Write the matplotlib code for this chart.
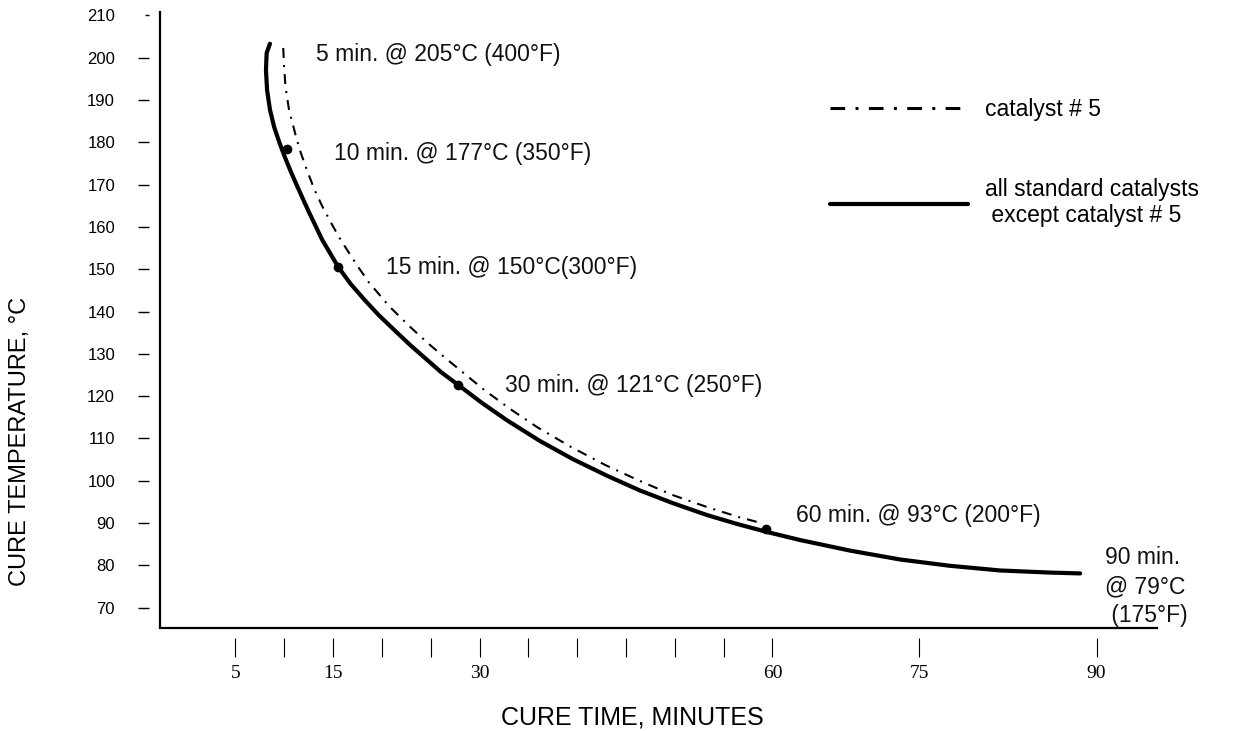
import numpy as np
import matplotlib
matplotlib.use("Agg")
import matplotlib.pyplot as plt

plt.rcParams['font.family'] = ['Liberation Sans', 'DejaVu Sans']

# ---- data (minutes, deg C) ----
solid_time = [8.54, 8.20, 8.13, 8.24, 8.54, 8.97, 9.51, 10.05, 10.72, 11.49,
              12.51, 13.90, 15.54, 16.81, 18.25, 19.66, 21.24, 22.89, 24.62,
              26.05, 27.79, 30.25, 32.81, 36.19, 39.57, 43.05, 46.43, 49.81,
              53.29, 56.36, 59.43, 62.81, 67.93, 73.05, 77.62, 81.85, 86.07,
              88.61]
solid_temp = [203.3, 201.1, 197.1, 192.4, 187.7, 183.6, 179.9, 176.6, 172.8,
              168.8, 163.6, 156.9, 150.5, 146.5, 142.7, 139.2, 135.7, 132.1,
              128.6, 125.7, 122.7, 118.4, 114.3, 109.4, 105.1, 101.2, 97.7,
              94.7, 91.9, 89.8, 87.9, 86.0, 83.5, 81.4, 79.9, 78.8, 78.3,
              78.1]

cat5_time = [9.90, 9.98, 10.13, 10.49, 11.21, 11.67, 12.31, 13.10, 13.87,
             14.79, 15.61, 16.43, 17.50, 18.63, 20.73, 22.88, 24.82, 26.72,
             30.46, 33.12, 35.88, 39.36, 42.90, 46.38, 49.81, 53.29, 56.57,
             58.87]
cat5_temp = [202.3, 198.1, 193.1, 187.7, 181.3, 177.7, 173.5, 168.8, 165.0,
             161.0, 157.6, 154.6, 150.8, 147.0, 141.3, 136.4, 132.3, 128.6,
             121.5, 117.0, 112.7, 108.0, 103.7, 100.0, 96.6, 93.8, 91.4, 90.0]

dot_time = [10.30, 15.54, 27.82, 59.37]
dot_temp = [178.4, 150.5, 122.6, 88.5]
dot_labels = ["10 min. @ 177°C (350°F)", "15 min. @ 150°C(300°F)",
              "30 min. @ 121°C (250°F)", "60 min. @ 93°C (200°F)"]
start_label = "5 min. @ 205°C (400°F)"
end_label = "90 min.\n@ 79°C\n (175°F)"

x_ticks = [5, 10, 15, 20, 25, 30, 35, 40, 45, 50, 55, 60, 75, 90]
x_labeled = [5, 15, 30, 60, 75, 90]
y_ticks = list(range(70, 211, 10))

# the hand drawn time axis is stretched past 75 min
knot_min = [-100, 75, 200]
knot_ax = [-100, 75, 75 + 125 * 1.213]

def fwd(x):
    return np.interp(x, knot_min, knot_ax)

def inv(u):
    return np.interp(u, knot_ax, knot_min)

fig = plt.figure(figsize=(12.56, 7.31), dpi=100)
ax = fig.add_axes([0.1274, 0.1409, 0.7938, 0.8427])
ax.set_xscale('function', functions=(fwd, inv))
ax.set_xlim(-2.72, 95.1)
ax.set_ylim(65.2, 210.8)

dd = (4.8, 3.4, 0.96, 3.4)
l_cat5, = ax.plot(cat5_time, cat5_temp, color='black', lw=1.5,
                  dashes=dd, label='catalyst # 5')
l_std, = ax.plot(solid_time, solid_temp, color='black', lw=3.0,
                 solid_capstyle='round', solid_joinstyle='round',
                 label='all standard catalysts\n except catalyst # 5')
ax.plot(dot_time, dot_temp, 'o', color='black', ms=6, zorder=5)

tfont = dict(fontsize=16.5, color='#111111')
ax.annotate(start_label, (solid_time[0], solid_temp[0]), xytext=(33, -8),
            textcoords='offset points', va='center', ha='left', **tfont)
offsets = [(33.6, -3.4), (34.3, 0), (33.6, 0), (21.2, 9.7)]
for t, T, lab, off in zip(dot_time, dot_temp, dot_labels, offsets):
    ax.annotate(lab, (t, T), xytext=off, textcoords='offset points',
                va='center', ha='left', **tfont)
ax.annotate(end_label, (solid_time[-1], solid_temp[-1]), xytext=(18, -9.5),
            textcoords='offset points', va='center', ha='left',
            linespacing=1.35, **tfont)

# axes frame: tick marks sit a little away from the axis lines
for s in ['top', 'right']:
    ax.spines[s].set_visible(False)
ax.spines['left'].set_position(('outward', 8))
ax.spines['bottom'].set_position(('outward', 7.2))
ax.spines['left'].set_color('none')
ax.spines['bottom'].set_color('none')
ax.plot([0, 0, 1], [1, 0, 0], transform=ax.transAxes, color='black',
        lw=1.6, clip_on=False, solid_joinstyle='miter')

ax.set_yticks(y_ticks)
ax.set_yticklabels([str(v) for v in y_ticks], fontsize=12)
ax.tick_params(axis='y', direction='out', length=7.9, width=1.0, pad=16.5)
ax.yaxis.get_major_ticks()[-1].tick1line.set_markersize(3)

ax.set_xticks(x_ticks)
ax.set_xticklabels([str(v) if v in x_labeled else '' for v in x_ticks],
                   fontsize=14, family='Liberation Serif')
ax.tick_params(axis='x', direction='out', length=13.7, width=0.8, pad=6)

ax.set_xlabel('CURE TIME, MINUTES', fontsize=18)
ax.xaxis.set_label_coords(0.474, -0.1445)
ax.xaxis.label.set_va('center')
ax.set_ylabel('CURE TEMPERATURE, °C', fontsize=17)
ax.yaxis.set_label_coords(-0.1404, 0.3036)
ax.yaxis.label.set_va('center')

leg = ax.legend(handles=[l_cat5, l_std], loc='upper left',
                bbox_to_anchor=(0.661, 0.866), bbox_transform=fig.transFigure,
                frameon=False, fontsize=16.5, handlelength=6.0,
                handletextpad=0.75, labelspacing=2.48, borderpad=0,
                borderaxespad=0)
leg.get_lines()[0].set_linewidth(2.2)

fig.savefig('out.png', dpi=100)
